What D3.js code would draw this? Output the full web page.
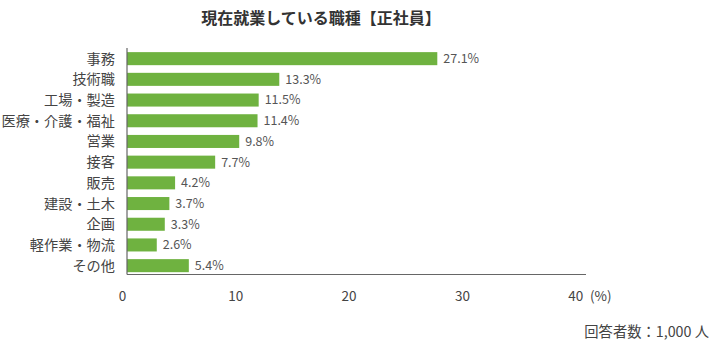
<!DOCTYPE html>
<html><head><meta charset="utf-8">
<script src="https://cdn.jsdelivr.net/npm/d3@7"></script>
<style>
html,body{margin:0;padding:0;background:#fff;}
text{font-family:"Noto Sans CJK JP","Noto Sans",sans-serif;}
</style></head>
<body><svg id="c" width="712" height="346"></svg>
<script>
const categories = ["事務","技術職","工場・製造","医療・介護・福祉","営業","接客","販売","建設・土木","企画","軽作業・物流","その他"];
const values = [27.1,13.3,11.5,11.4,9.8,7.7,4.2,3.7,3.3,2.6,5.4];
const xTicks = [0,10,20,30,40];
const title = "現在就業している職種【正社員】";
const unitLabel = "(%)";
const note = "回答者数：1,000 人";

const svg = d3.select("#c");
const x = d3.scaleLinear().domain([0,40]).range([127,585]);
const y = d3.scaleBand().domain(categories).range([48.3,276]).paddingInner(0.37).paddingOuter(0.185);
const green = "#6fb240";

svg.append("text").attr("x",321).attr("y",24).attr("text-anchor","middle")
  .attr("font-size",16).attr("font-weight","bold").attr("fill","#333").text(title);

svg.selectAll("rect.bar").data(values).join("rect").attr("class","bar")
  .attr("x",x(0)).attr("y",(d,i)=>y(categories[i]))
  .attr("width",d=>x(d)-x(0)).attr("height",y.bandwidth()).attr("fill",green);

svg.selectAll("text.val").data(values).join("text").attr("class","val")
  .attr("x",d=>x(d)+6).attr("y",(d,i)=>y(categories[i])+y.bandwidth()/2)
  .attr("dy","0.35em").attr("font-size",12.5).attr("fill","#555")
  .text(d=>d.toFixed(1)+"%");

svg.selectAll("text.cat").data(categories).join("text").attr("class","cat")
  .attr("x",115).attr("y",d=>y(d)+y.bandwidth()/2).attr("dy","0.35em")
  .attr("text-anchor","end").attr("font-size",14.2).attr("fill","#444").text(d=>d);

// axes lines
svg.append("line").attr("x1",x(0)).attr("x2",x(0)).attr("y1",48).attr("y2",274.5)
  .attr("stroke","#666").attr("stroke-width",1.2);
svg.append("line").attr("x1",x(0)).attr("x2",x(40)+1).attr("y1",274.5).attr("y2",274.5)
  .attr("stroke","#666").attr("stroke-width",1.2);

svg.selectAll("text.tick").data(xTicks).join("text").attr("class","tick")
  .attr("x",d=>x(d)-4.5-d*0.12).attr("y",296).attr("dy","0.35em").attr("text-anchor","middle")
  .attr("font-size",13.5).attr("fill","#444").text(d=>d);

svg.append("text").attr("x",x(40)+5).attr("y",296).attr("dy","0.35em")
  .attr("font-size",13.5).attr("fill","#444").text(unitLabel);

svg.append("text").attr("x",709).attr("y",332).attr("dy","0.35em").attr("text-anchor","end")
  .attr("font-size",14.3).attr("fill","#444").text(note);
</script></body></html>
